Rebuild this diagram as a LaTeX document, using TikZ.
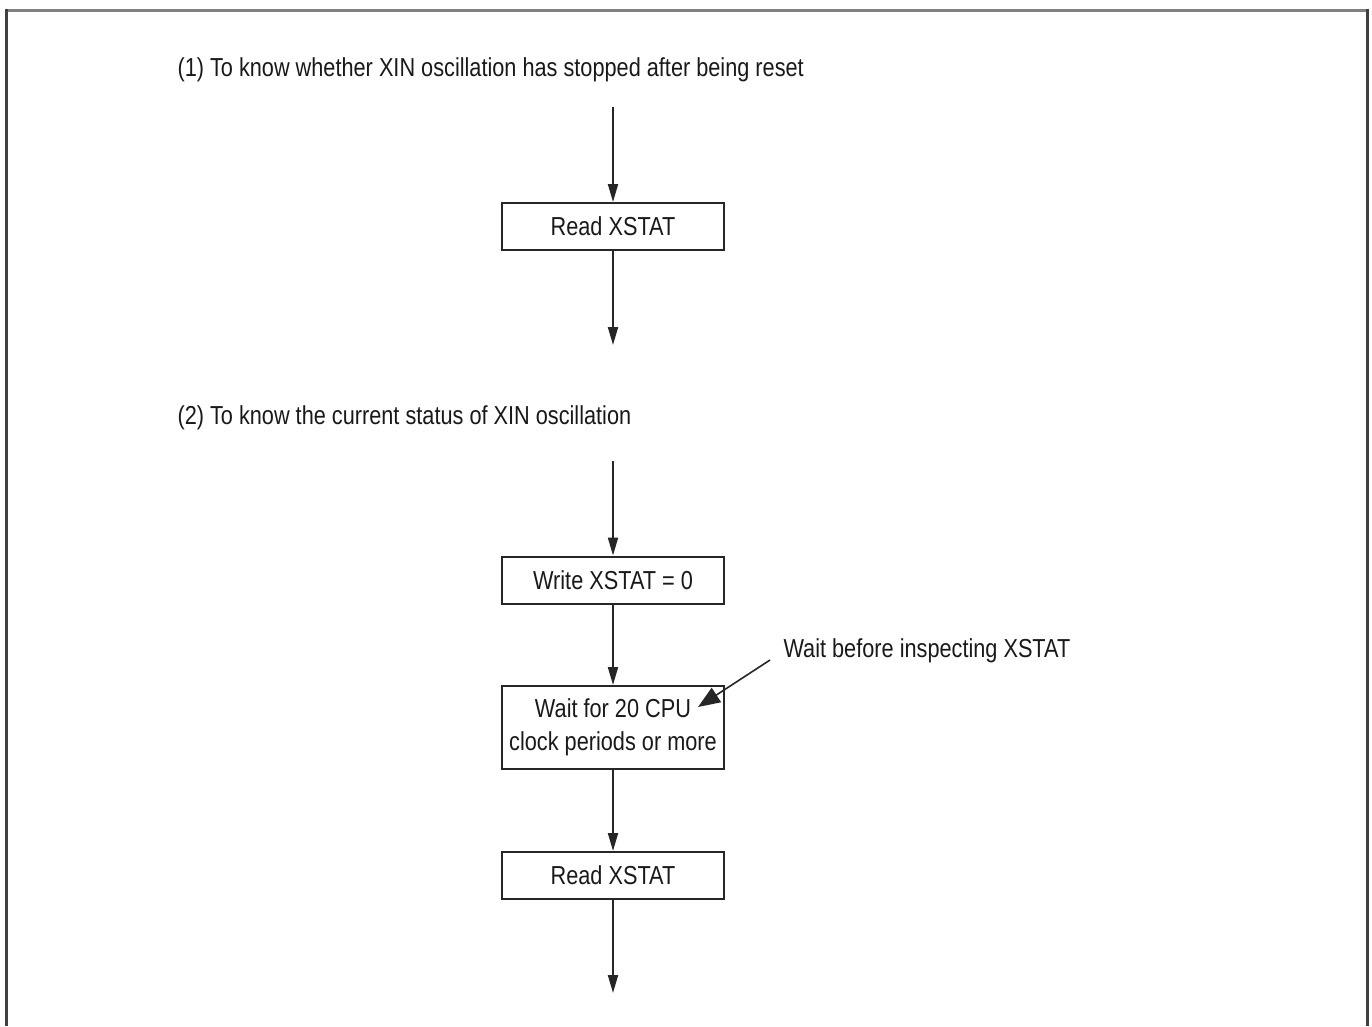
\documentclass[tikz,border=0pt]{standalone}
\usepackage{fontspec}
\setmainfont[FakeStretch=0.835]{Liberation Sans}
\usetikzlibrary{arrows.meta}
\begin{document}
\begin{tikzpicture}[x=1pt,y=-1pt,
  font=\fontsize{26}{33}\selectfont,
  txt/.style={text=black!90},
  stepbox/.style={draw=black!85,line width=2pt,minimum width=222pt,minimum height=47pt,inner sep=0pt,align=center,text=black!90},
  flow/.style={draw=black!85,line width=2pt,-{Triangle[length=18pt,width=10pt]}},
  note/.style={draw=black!85,line width=1.6pt,-{Triangle[length=22pt,width=17pt]}}]
\useasboundingbox (0,0) rectangle (1372,1026);
% frame
\draw[black!50,line width=3pt] (6,10) -- (1367,10);
\draw[black!75,line width=3pt] (6,8.5) -- (6,1026);
\draw[black!75,line width=3pt] (1367,8.5) -- (1367,1026);
% section 1
\node[txt,anchor=west] (t1) at (174,70) {(1) To know whether XIN oscillation has stopped after being reset};
\coordinate (s1) at (613,107);
\node[stepbox] (r1) at (613,226.5) {Read XSTAT};
\coordinate (e1) at (613,345);
\draw[flow] (s1) -- (r1.north);
\draw[flow] (r1.south) -- (e1);
% section 2
\node[txt,anchor=west] (t2) at (174,418) {(2) To know the current status of XIN oscillation};
\coordinate (s2) at (613,461);
\node[stepbox] (w0) at (613,580) {Write XSTAT = 0};
\node[stepbox,minimum height=83pt] (wt) at (613,727.5) {Wait for 20 CPU\\clock periods or more};
\node[stepbox] (r2) at (613,875.5) {Read XSTAT};
\coordinate (e2) at (613,993);
\draw[flow] (s2) -- (w0.north);
\draw[flow] (w0.south) -- (wt.north);
\draw[flow] (wt.south) -- (r2.north);
\draw[flow] (r2.south) -- (e2);
% annotation
\node[txt,anchor=west] (nt) at (780,651) {Wait before inspecting XSTAT};
\coordinate (n0) at (770,660);
\coordinate (n1) at (698,707);
\draw[note] (n0) -- (n1);
\end{tikzpicture}
\end{document}
